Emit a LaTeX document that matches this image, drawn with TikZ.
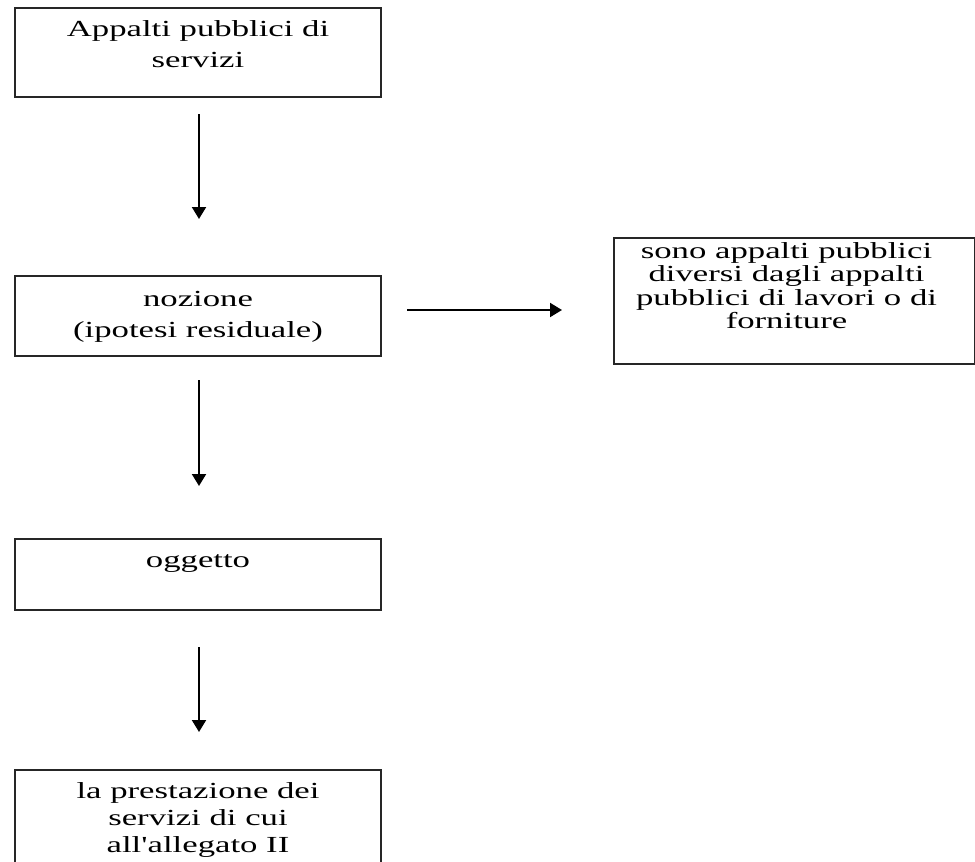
\documentclass[tikz,border=0pt]{standalone}
\usepackage{fontspec}
\usepackage{graphicx}
\setmainfont{Liberation Serif}
\usetikzlibrary{arrows.meta}

% wide serif lettering, stacked and centred; #1 is the line spacing
\newcommand{\widetext}[2]{\scalebox{1.51}[1]{\fontsize{11.5pt}{#1}\selectfont\begin{tabular}[t]{@{}c@{}}#2\end{tabular}}}

\tikzset{
  box/.style={draw=black!85, line width=1pt, inner sep=0pt, anchor=north west},
  txt/.style={inner sep=0pt, anchor=base},
  arr/.style={line width=1pt, -{Triangle[length=6pt,width=7pt]}}
}

\begin{document}
\begin{tikzpicture}
  \useasboundingbox (0,0) rectangle (487.5pt,-431pt);

  % boxes
  \node[box, minimum width=183pt, minimum height=44.5pt] (b1) at (7pt,-3.5pt) {};
  \node[box, minimum width=183pt, minimum height=40pt]   (b2) at (7pt,-137.5pt) {};
  \node[box, minimum width=183pt, minimum height=35.5pt] (b3) at (7pt,-269pt) {};
  \node[box, minimum width=183pt, minimum height=60pt]   (b4) at (7pt,-384.5pt) {};
  \node[box, minimum width=180.5pt, minimum height=63pt] (r)  at (306.5pt,-118.5pt) {};

  % box texts
  \node[txt] (t1) at ([yshift=-14.5pt]b1.north)
    {\widetext{15.5pt}{Appalti pubblici di\\servizi}};
  \node[txt] (t2) at ([yshift=-15.5pt]b2.north)
    {\widetext{15.5pt}{nozione\\(ipotesi residuale)}};
  \node[txt] (t3) at ([yshift=-14.5pt]b3.north)
    {\widetext{15.5pt}{oggetto}};
  \node[txt] (t4) at ([yshift=-14.5pt]b4.north)
    {\widetext{13.5pt}{la prestazione dei\\servizi di cui\\all\textquotesingle allegato II}};
  \node[txt] (tr) at ([xshift=-4pt,yshift=-10.5pt]r.north)
    {\widetext{11.75pt}{sono appalti pubblici\\diversi dagli appalti\\pubblici di lavori o di\\forniture}};

  % connectors
  \draw[arr, shorten <=8pt, shorten >=28pt] ([xshift=0.5pt]b1.south) -- ([xshift=0.5pt]b2.north);
  \draw[arr, shorten <=11.5pt, shorten >=26pt] ([xshift=0.5pt]b2.south) -- ([xshift=0.5pt]b3.north);
  \draw[arr, shorten <=18pt, shorten >=18.5pt] ([xshift=0.5pt]b3.south) -- ([xshift=0.5pt]b4.north);
  \draw[arr, shorten <=12.5pt, shorten >=25.5pt] ([yshift=3pt]b2.east) -- ([yshift=3pt]b2.east -| r.west);
\end{tikzpicture}
\end{document}
